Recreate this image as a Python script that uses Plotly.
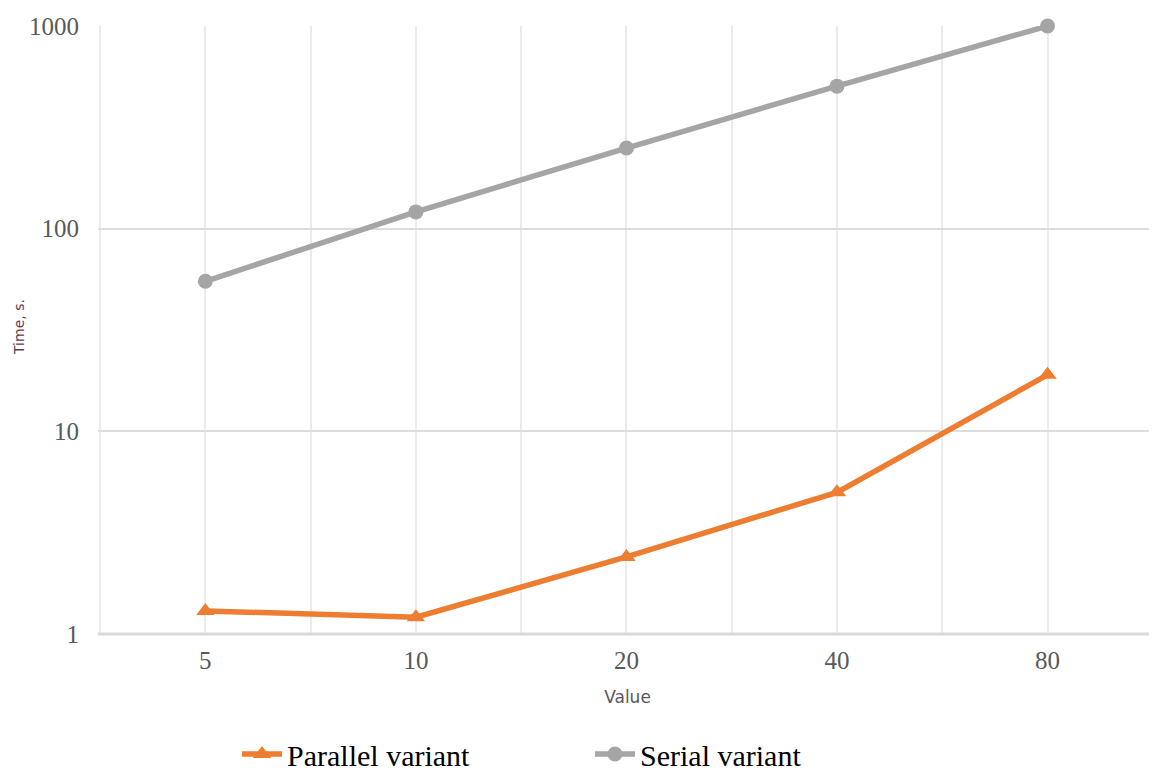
import plotly.graph_objects as go

categories = ["5", "10", "20", "40", "80"]
parallel_times = [1.3, 1.21, 2.4, 5.0, 19]
serial_times = [55, 121, 250, 505, 1000]
y_ticks = [1, 10, 100, 1000]

x_idx = list(range(len(categories)))

# page has an 8px body margin; size the figure so it fits the 1157x776 window
W, H = 1149, 768

fig = go.Figure()
fig.add_trace(go.Scatter(
    x=x_idx, y=parallel_times, name="Parallel variant", mode="lines+markers",
    line=dict(color="#ED7D31", width=5.5),
    marker=dict(symbol="triangle-up", size=16, color="#ED7D31"),
    cliponaxis=False,
))
fig.add_trace(go.Scatter(
    x=x_idx, y=serial_times, name="Serial variant", mode="lines+markers",
    line=dict(color="#A5A5A5", width=5.5),
    marker=dict(symbol="circle", size=15, color="#A5A5A5"),
    cliponaxis=False,
))

fig.update_layout(
    width=W, height=H,
    margin=dict(l=90, r=0, t=18, b=142, autoexpand=False),
    plot_bgcolor="white", paper_bgcolor="white",
    font=dict(family="Liberation Serif", color="#595959"),
    legend=dict(
        orientation="h", xref="container", x=229 / W, xanchor="left",
        yref="container", y=(H - 746) / H, yanchor="middle",
        font=dict(family="Liberation Serif", size=30, color="black"),
        entrywidth=298, itemwidth=40,
    ),
    xaxis=dict(
        range=[-0.51, 4.52], tickmode="array", tickvals=x_idx, ticktext=categories,
        showgrid=True, gridcolor="#EBEBEB", gridwidth=2,
        minor=dict(tick0=0.5, dtick=1, showgrid=True, gridcolor="#EBEBEB", gridwidth=2),
        zeroline=False, showline=False, ticks="", automargin=False,
        tickfont=dict(size=25, color="#595959"),
        ticklabelstandoff=9,
        title=dict(text="Value", font=dict(family="DejaVu Sans", size=17, color="#595959"), standoff=18),
    ),
    yaxis=dict(
        type="log", range=[0, 3], tickmode="array", tickvals=y_ticks,
        ticktext=[str(v) for v in y_ticks],
        showgrid=True, gridcolor="#DDDDDD", gridwidth=2,
        zeroline=False, showline=False, ticks="", automargin=False,
        tickfont=dict(size=25, color="#595959"),
        ticklabelstandoff=18,
    ),
    shapes=[dict(type="line", xref="paper", yref="paper", x0=0, x1=1, y0=0, y1=0,
                 line=dict(color="#D9D9D9", width=3))],
    annotations=[dict(text="Time, s.", xref="paper", yref="paper", x=(19 - 98) / 1059, y=(634 - 327) / 608,
                      xanchor="center", yanchor="middle",
                      textangle=-90, showarrow=False,
                      font=dict(family="DejaVu Sans", size=14, color="#6B3A4A"))],
)

fig.write_html("out.html")
